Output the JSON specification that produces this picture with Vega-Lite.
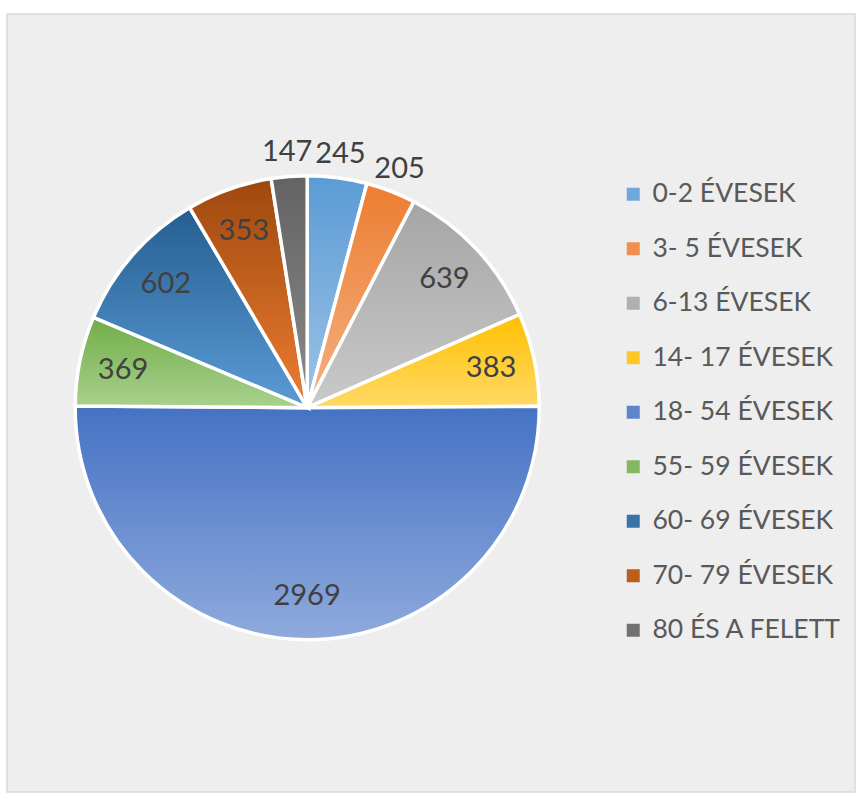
{
  "$schema": "https://vega.github.io/schema/vega-lite/v6.json",
  "width": 848,
  "height": 778,
  "padding": {"left": 7, "top": 14, "right": 1, "bottom": 7},
  "background": "white",
  "config": {
    "view": {"fill": "#eeeeee", "stroke": "#d9d9d9", "strokeWidth": 1.5},
    "font": "Lato"
  },
  "data": {
    "values": [
      {"label": "0-2 ÉVESEK", "value": 245, "idx": 0},
      {"label": "3- 5 ÉVESEK", "value": 205, "idx": 1},
      {"label": "6-13 ÉVESEK", "value": 639, "idx": 2},
      {"label": "14- 17 ÉVESEK", "value": 383, "idx": 3},
      {"label": "18- 54 ÉVESEK", "value": 2969, "idx": 4},
      {"label": "55- 59 ÉVESEK", "value": 369, "idx": 5},
      {"label": "60- 69 ÉVESEK", "value": 602, "idx": 6},
      {"label": "70- 79 ÉVESEK", "value": 353, "idx": 7},
      {"label": "80 ÉS A FELETT", "value": 147, "idx": 8}
    ]
  },
  "encoding": {
    "theta": {"field": "value", "type": "quantitative", "stack": true},
    "order": {"field": "idx", "type": "quantitative"},
    "x": {"datum": 0.354, "type": "quantitative", "scale": {"domain": [0, 1]}, "axis": null},
    "y": {"datum": 0.494, "type": "quantitative", "scale": {"domain": [0, 1]}, "axis": null}
  },
  "layer": [
    {
      "mark": {"type": "arc", "outerRadius": 232, "opacity": 0},
      "encoding": {
        "color": {
          "field": "label",
          "type": "nominal",
          "scale": {
            "domain": ["0-2 ÉVESEK", "3- 5 ÉVESEK", "6-13 ÉVESEK", "14- 17 ÉVESEK", "18- 54 ÉVESEK", "55- 59 ÉVESEK", "60- 69 ÉVESEK", "70- 79 ÉVESEK", "80 ÉS A FELETT"],
            "range": ["#6FA7DA", "#F08F4F", "#B0B0B0", "#FFC726", "#5E85CC", "#83B863", "#3A73AA", "#BA5E1E", "#727272"]
          },
          "legend": {
            "title": null,
            "orient": "none",
            "legendX": 613,
            "legendY": 167,
            "padding": 0,
            "symbolType": "square",
            "symbolSize": 169,
            "symbolStrokeWidth": 0,
            "symbolOpacity": 1,
            "labelFont": "Lato",
            "labelFontSize": 26.5,
            "labelColor": "#595959",
            "labelOffset": 6,
            "rowPadding": 27.5,
            "labelLimit": 400
          }
        }
      }
    },
    {
      "mark": {"type": "arc", "outerRadius": 232, "stroke": "white", "strokeWidth": 3.5},
      "encoding": {
        "fill": {
          "condition": [
            {"test": "datum.idx == 0", "value": {"gradient": "linear", "x1": 0, "y1": 0, "x2": 0, "y2": 1, "stops": [{"offset": 0, "color": "#5B9BD5"}, {"offset": 1, "color": "#9DC3E6"}]}},
            {"test": "datum.idx == 1", "value": {"gradient": "linear", "x1": 0, "y1": 0, "x2": 0, "y2": 1, "stops": [{"offset": 0, "color": "#ED7D31"}, {"offset": 1, "color": "#F4B183"}]}},
            {"test": "datum.idx == 2", "value": {"gradient": "linear", "x1": 0, "y1": 0, "x2": 0, "y2": 1, "stops": [{"offset": 0, "color": "#A5A5A5"}, {"offset": 1, "color": "#C9C9C9"}]}},
            {"test": "datum.idx == 3", "value": {"gradient": "linear", "x1": 0, "y1": 0, "x2": 0, "y2": 1, "stops": [{"offset": 0, "color": "#FFC000"}, {"offset": 1, "color": "#FFD966"}]}},
            {"test": "datum.idx == 4", "value": {"gradient": "linear", "x1": 0, "y1": 0, "x2": 0, "y2": 1, "stops": [{"offset": 0, "color": "#4472C4"}, {"offset": 1, "color": "#8FAADC"}]}},
            {"test": "datum.idx == 5", "value": {"gradient": "linear", "x1": 0, "y1": 0, "x2": 0, "y2": 1, "stops": [{"offset": 0, "color": "#70AD47"}, {"offset": 1, "color": "#A9D18E"}]}},
            {"test": "datum.idx == 6", "value": {"gradient": "linear", "x1": 0, "y1": 0, "x2": 0, "y2": 1, "stops": [{"offset": 0, "color": "#255E91"}, {"offset": 1, "color": "#5B9BD5"}]}},
            {"test": "datum.idx == 7", "value": {"gradient": "linear", "x1": 0, "y1": 0, "x2": 0, "y2": 1, "stops": [{"offset": 0, "color": "#9E480E"}, {"offset": 1, "color": "#ED7D31"}]}}
          ],
          "value": {"gradient": "linear", "x1": 0, "y1": 0, "x2": 0, "y2": 1, "stops": [{"offset": 0, "color": "#636363"}, {"offset": 1, "color": "#8A8A8A"}]}
        }
      }
    },
    {
      "mark": {"type": "text", "radius": 188, "font": "Lato", "fontSize": 29, "color": "#404040"},
      "encoding": {
        "text": {"condition": {"test": "datum.value < 300", "value": ""}, "field": "value", "type": "quantitative"}
      }
    },
    {
      "mark": {"type": "text", "radius": 256, "font": "Lato", "fontSize": 29, "color": "#404040"},
      "encoding": {
        "text": {"condition": {"test": "datum.value >= 300", "value": ""}, "field": "value", "type": "quantitative"}
      }
    }
  ]
}
